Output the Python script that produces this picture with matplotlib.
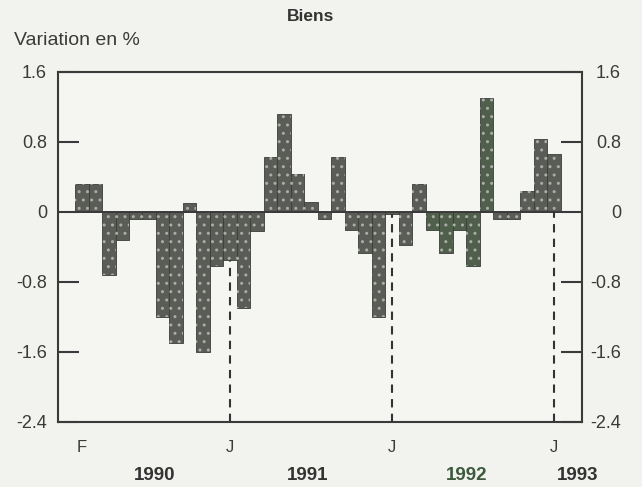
import matplotlib
matplotlib.use("Agg")
import matplotlib.pyplot as plt
import matplotlib.transforms as mtransforms
import numpy as np

# ---- data ----
months = ["F90", "M90", "A90", "M90", "J90", "J90", "A90", "S90", "O90", "N90", "D90",
          "J91", "F91", "M91", "A91", "M91", "J91", "J91", "A91", "S91", "O91", "N91", "D91",
          "J92", "F92", "M92", "A92", "M92", "J92", "J92", "A92", "S92", "O92", "N92", "D92",
          "J93"]
values = [0.32, 0.32, -0.72, -0.32, -0.08, -0.08, -1.20, -1.50, 0.10, -1.60, -0.62,
          -0.55, -1.10, -0.22, 0.63, 1.12, 0.43, 0.12, -0.08, 0.63, -0.20, -0.47, -1.20,
          -0.02, -0.38, 0.32, -0.20, -0.47, -0.20, -0.62, 1.30, -0.08, -0.08, 0.24, 0.84,
          0.66]
xtick_labels = ["F", "J", "J", "J"]
xtick_months = [0, 11, 23, 35]
years = ["1990", "1991", "1992", "1993"]
yticks = [1.6, 0.8, 0, -0.8, -1.6, -2.4]
ytick_labels = ["1.6", "0.8", "0", "-0.8", "-1.6", "-2.4"]

# ---- style ----
plt.rcParams["font.family"] = ["Liberation Sans", "DejaVu Sans"]
W, H = 642, 487
fig = plt.figure(figsize=(W / 100, H / 100), dpi=100, facecolor="#f2f2ee")
ax = fig.add_axes([58 / W, 1 - 422 / H, 524 / W, 350 / H])
ax.set_facecolor("#f5f5f2")

x = np.arange(len(values))
green_idx = {26, 27, 28, 29, 30}
face = ["#4f5f4c" if i in green_idx else "#5a5d57" for i in range(len(values))]

ax.bar(x, values, width=1.0, color=face, edgecolor="#3a3d38", linewidth=0.6, zorder=2)
ax.bar(x, values, width=1.0, facecolor="none", edgecolor="#a9ada4", linewidth=0,
       hatch="..", zorder=3)

ax.axhline(0, color="#3a3a3a", linewidth=1.4, zorder=4)

# dashed January markers
for m in xtick_months[1:]:
    ax.plot([m, m], [-2.4, min(0, values[m])], color="#333333", linewidth=1.5,
            linestyle=(0, (4, 3)), zorder=4)

ax.set_xlim(-1.76, 37.06)
ax.set_ylim(-2.4, 1.6)

for sp in ax.spines.values():
    sp.set_color("#3a3a3a")
    sp.set_linewidth(1.5)

ax.set_yticks(yticks)
ax.set_yticklabels(ytick_labels)
ax.tick_params(axis="y", direction="in", length=15, width=1.5, color="#3a3a3a",
               left=True, right=True, labelleft=True, labelright=True,
               labelsize=13, labelcolor="#3a3a3a", pad=8)
# right labels right-aligned near x=620
offset = mtransforms.ScaledTranslation(28 / 100, 0, fig.dpi_scale_trans)
for t in ax.yaxis.get_major_ticks():
    t.label2.set_horizontalalignment("right")
    t.label2.set_transform(t.label2.get_transform() + offset)

ax.set_xticks(xtick_months)
ax.set_xticklabels(xtick_labels)
ax.tick_params(axis="x", length=0, labelsize=12, labelcolor="#3a3a3a", pad=13)

# year labels
year_pos = [5.4, 16.7, 28.5, 36.7]
year_col = ["#333333", "#333333", "#3d5a3d", "#333333"]
trans = mtransforms.blended_transform_factory(ax.transData, fig.transFigure)
for yl, xp, c in zip(years, year_pos, year_col):
    ax.text(xp, 1 - 480 / H, yl, transform=trans, ha="center", va="baseline",
            fontsize=13.5, fontweight="bold", color=c, clip_on=False)

fig.text(311 / W, 1 - 21 / H, "Biens", ha="center", va="baseline", fontsize=12.5,
         fontweight="bold", color="#333333")
fig.text(14 / W, 1 - 45 / H, "Variation en %", ha="left", va="baseline",
         fontsize=14, color="#3a3a3a")

fig.savefig("out.png", dpi=100, facecolor=fig.get_facecolor())
